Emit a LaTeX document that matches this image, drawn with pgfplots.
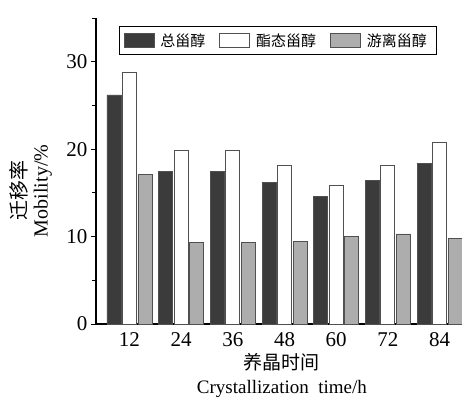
\documentclass[border=0pt]{standalone}
\usepackage{pgfplots}
\pgfplotsset{compat=1.18}
\usepackage{fontspec}
\setmainfont{Liberation Serif}
\newfontfamily\cjk{Noto Sans CJK SC}
\definecolor{darkbar}{HTML}{3B3B3B}
\definecolor{greybar}{HTML}{ADADAD}
\definecolor{edgec}{HTML}{505050}
\begin{document}
\begin{tikzpicture}
\useasboundingbox (-96pt,-76pt) rectangle (376pt,324pt);
\begin{axis}[
  scale only axis, width=366pt, height=306pt,
  at={(0pt,0pt)}, anchor=south west,
  xmin=-0.648, xmax=6.435, ymin=0, ymax=35,
  axis x line*=bottom, axis y line*=left,
  axis line style={line width=1.2pt, -},
  ybar=1.5pt, bar width=14pt,
  xtick={0,1,2,3,4,5,6},
  xticklabels={12,24,36,48,60,72,84},
  major x tick style={draw=none},
  ytick={0,10,20,30}, minor ytick={5,15,25,35},
  tick align=outside,
  major tick length=5pt, minor tick length=4pt,
  tick style={line width=0.8pt, black},
  /pgf/number format/assume math mode=true,
  tick label style={font=\fontsize{21}{21}\selectfont},
  xlabel={{\cjk 养晶时间}\\Crystallization\ \ time/h},
  xlabel style={align=center, font=\fontsize{19}{24}\selectfont, at={(axis description cs:0.508,-0.085)}, anchor=north},
  ylabel={{\cjk 迁移率}\\Mobility/\%},
  ylabel style={align=center, font=\fontsize{20}{21}\selectfont, at={(axis description cs:-0.178,0.435)}, anchor=center, rotate=0},
  legend columns=3,
  legend image code/.code={\draw[#1] (0pt,-6.5pt) rectangle (30pt,7pt);},
  legend style={at={(axis description cs:0.063,0.974)}, anchor=north west,
    draw=black, line width=1pt, font=\cjk\fontsize{15}{15}\selectfont,
    inner xsep=4pt, inner ysep=5pt,
    /tikz/every even column/.append style={column sep=8pt},
    nodes={inner xsep=6pt}},
]
\addplot[fill=darkbar, draw=edgec, line width=0.8pt] coordinates {(0,26.2) (1,17.5) (2,17.5) (3,16.2) (4,14.6) (5,16.4) (6,18.4)};
\addplot[fill=white, draw=edgec, line width=0.8pt] coordinates {(0,28.8) (1,19.8) (2,19.8) (3,18.1) (4,15.9) (5,18.1) (6,20.8)};
\addplot[fill=greybar, draw=edgec, line width=0.8pt] coordinates {(0,17.1) (1,9.3) (2,9.3) (3,9.4) (4,10.0) (5,10.3) (6,9.8)};
\legend{总甾醇,酯态甾醇,游离甾醇}
\end{axis}
\end{tikzpicture}
\end{document}
